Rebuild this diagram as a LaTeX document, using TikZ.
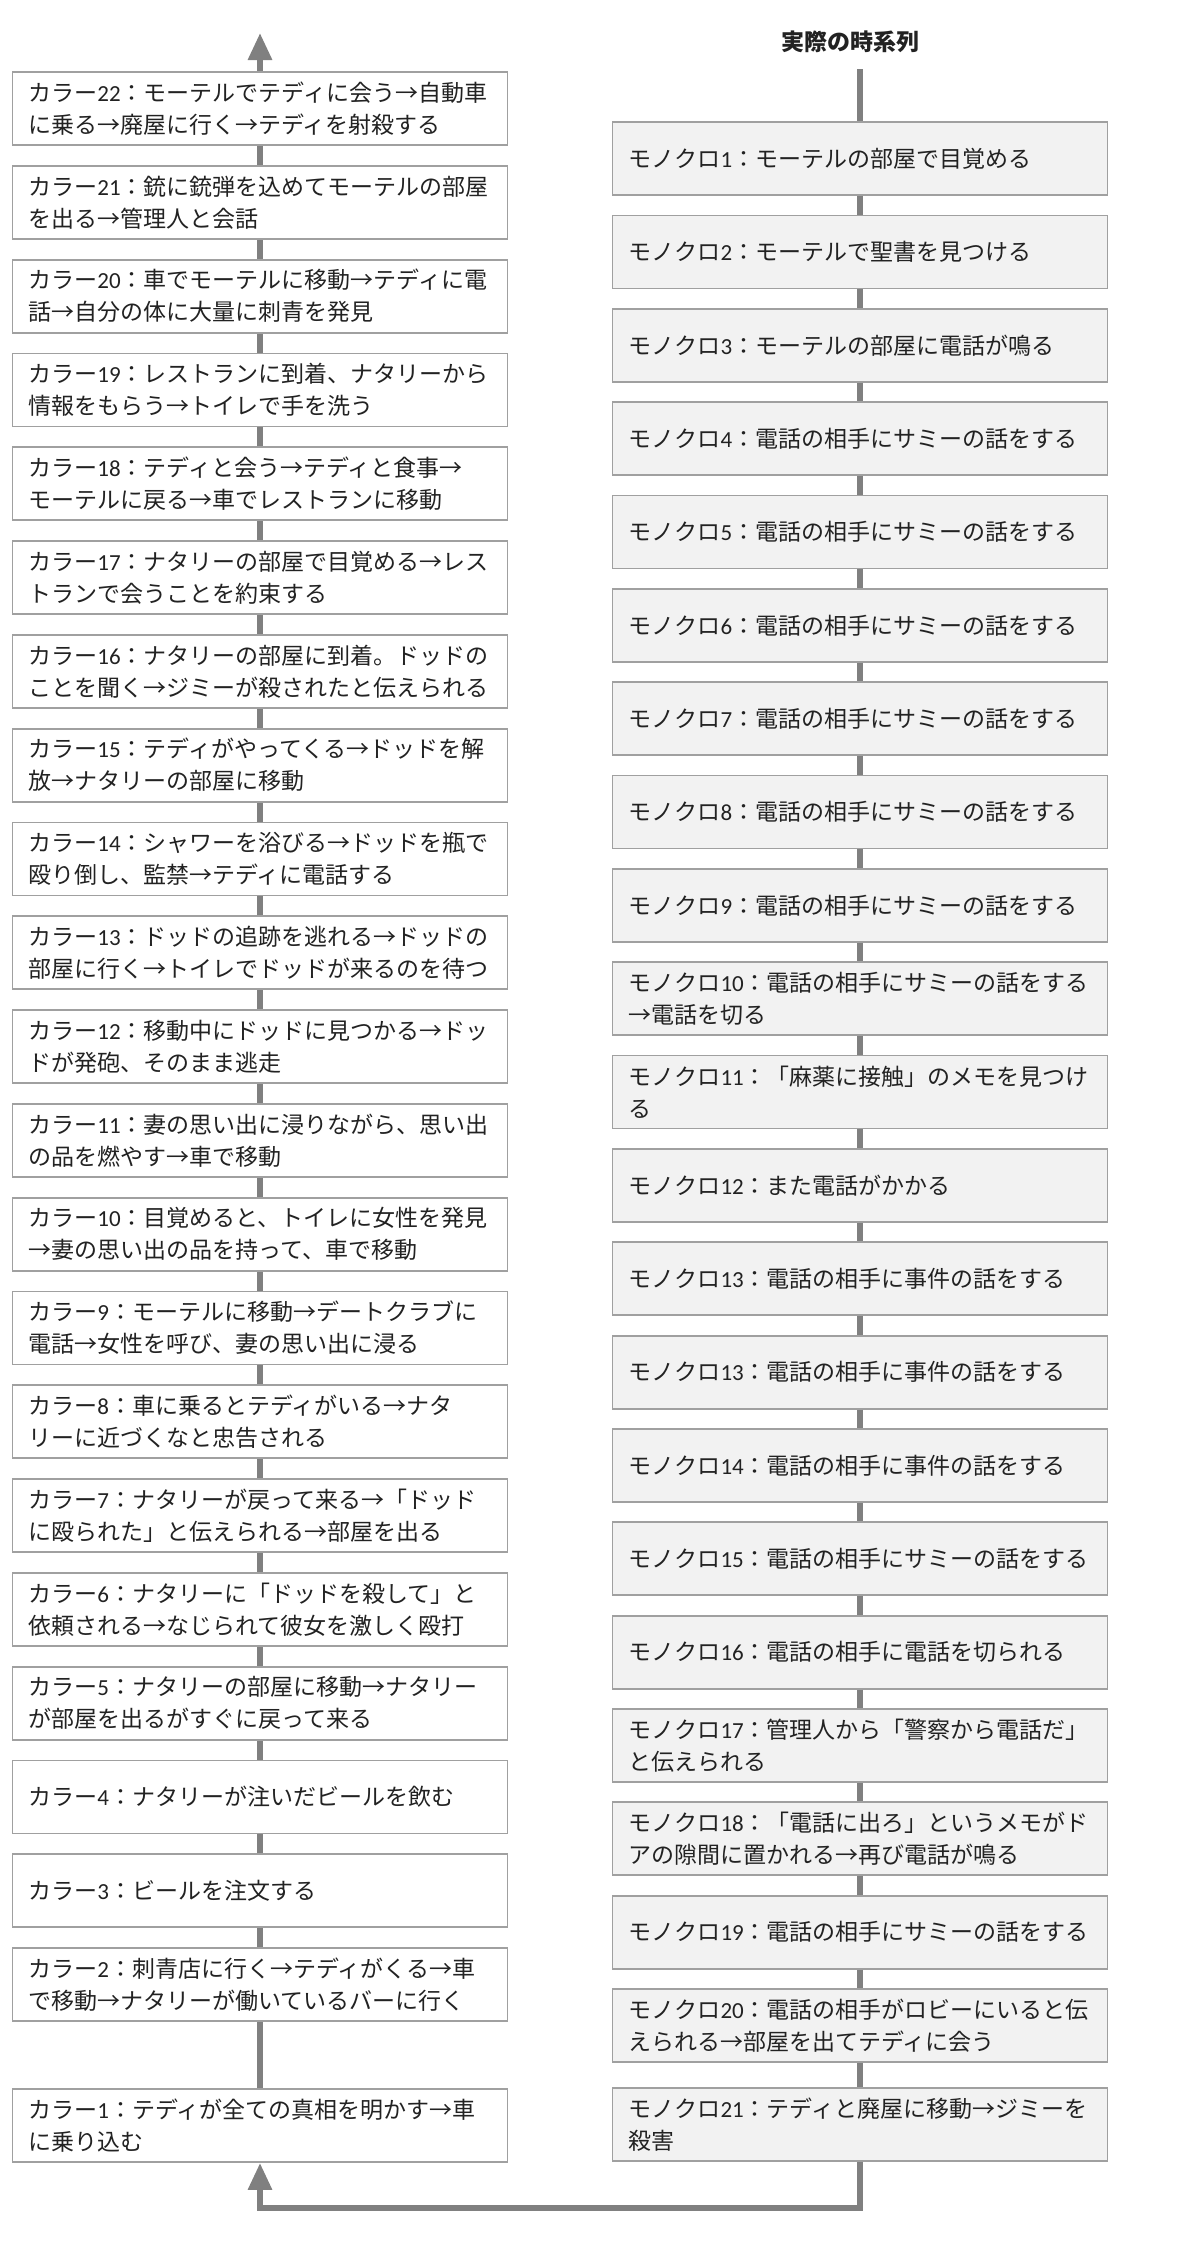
\documentclass[tikz,border=0pt]{standalone}
\usepackage{fontspec}
\setmainfont{Noto Sans CJK JP}
\newfontfamily\digfont{Carlito}
\usepackage{xcolor}
\usetikzlibrary{arrows.meta}
\definecolor{boxline}{HTML}{A0A0A0}
\definecolor{monofill}{HTML}{F2F2F2}
\definecolor{flowgray}{HTML}{808080}
\definecolor{ink}{HTML}{222222}
\newcommand{\nm}[1]{{\digfont #1}}
\tikzset{
    colorbox/.style={draw=boxline, line width=0.9pt, fill=white, text=ink,
        minimum height=36.5pt, text width=231.5pt, inner xsep=8pt, inner ysep=0pt,
        align=left, font=\fontsize{11.5pt}{16pt}\selectfont},
    monobox/.style={colorbox, fill=monofill},
    timeline/.style={draw=flowgray, line width=3pt},
    bighead/.style={-{Triangle[width=11.5pt,length=13.5pt]}}
}

\begin{document}
\begin{tikzpicture}[x=0.5pt, y=-0.5pt]
                        \useasboundingbox (0,0) rectangle (1200,2250);
                        \node[text=ink, font=\fontsize{11.5pt}{16pt}\selectfont\bfseries] (title) at (850,42) {実際の時系列};
                        % color scenes, shown in reverse order
                        \node[colorbox] (c22) at (260,108.5) {カラー\nm{22}：モーテルでテディに会う→自動車\\に乗る→廃屋に行く→テディを射殺する};
                        \node[colorbox] (c21) at (260,202.3) {カラー\nm{21}：銃に銃弾を込めてモーテルの部屋\\を出る→管理人と会話};
                        \node[colorbox] (c20) at (260,296.1) {カラー\nm{20}：車でモーテルに移動→テディに電\\話→自分の体に大量に刺青を発見};
                        \node[colorbox] (c19) at (260,389.9) {カラー\nm{19}：レストランに到着、ナタリーから\\情報をもらう→トイレで手を洗う};
                        \node[colorbox] (c18) at (260,483.7) {カラー\nm{18}：テディと会う→テディと食事→\\モーテルに戻る→車でレストランに移動};
                        \node[colorbox] (c17) at (260,577.5) {カラー\nm{17}：ナタリーの部屋で目覚める→レス\\トランで会うことを約束する};
                        \node[colorbox] (c16) at (260,671.3) {カラー\nm{16}：ナタリーの部屋に到着。ドッドの\\ことを聞く→ジミーが殺されたと伝えられる};
                        \node[colorbox] (c15) at (260,765.1) {カラー\nm{15}：テディがやってくる→ドッドを解\\放→ナタリーの部屋に移動};
                        \node[colorbox] (c14) at (260,858.9) {カラー\nm{14}：シャワーを浴びる→ドッドを瓶で\\殴り倒し、監禁→テディに電話する};
                        \node[colorbox] (c13) at (260,952.7) {カラー\nm{13}：ドッドの追跡を逃れる→ドッドの\\部屋に行く→トイレでドッドが来るのを待つ};
                        \node[colorbox] (c12) at (260,1046.5) {カラー\nm{12}：移動中にドッドに見つかる→ドッ\\ドが発砲、そのまま逃走};
                        \node[colorbox] (c11) at (260,1140.3) {カラー\nm{11}：妻の思い出に浸りながら、思い出\\の品を燃やす→車で移動};
                        \node[colorbox] (c10) at (260,1234.1) {カラー\nm{10}：目覚めると、トイレに女性を発見\\→妻の思い出の品を持って、車で移動};
                        \node[colorbox] (c9) at (260,1327.9) {カラー\nm{9}：モーテルに移動→デートクラブに\\電話→女性を呼び、妻の思い出に浸る};
                        \node[colorbox] (c8) at (260,1421.7) {カラー\nm{8}：車に乗るとテディがいる→ナタ\\リーに近づくなと忠告される};
                        \node[colorbox] (c7) at (260,1515.5) {カラー\nm{7}：ナタリーが戻って来る→「ドッド\\に殴られた」と伝えられる→部屋を出る};
                        \node[colorbox] (c6) at (260,1609.3) {カラー\nm{6}：ナタリーに「ドッドを殺して」と\\依頼される→なじられて彼女を激しく殴打};
                        \node[colorbox] (c5) at (260,1703.1) {カラー\nm{5}：ナタリーの部屋に移動→ナタリー\\が部屋を出るがすぐに戻って来る};
                        \node[colorbox] (c4) at (260,1796.9) {カラー\nm{4}：ナタリーが注いだビールを飲む};
                        \node[colorbox] (c3) at (260,1890.7) {カラー\nm{3}：ビールを注文する};
                        \node[colorbox] (c2) at (260,1984.5) {カラー\nm{2}：刺青店に行く→テディがくる→車\\で移動→ナタリーが働いているバーに行く};
                        \node[colorbox] (c1) at (260,2125.5) {カラー\nm{1}：テディが全ての真相を明かす→車\\に乗り込む};
                        % monochrome scenes, in story order
                        \node[monobox] (m1) at (860,158.5) {モノクロ\nm{1}：モーテルの部屋で目覚める};
                        \node[monobox] (m2) at (860,251.9) {モノクロ\nm{2}：モーテルで聖書を見つける};
                        \node[monobox] (m3) at (860,345.2) {モノクロ\nm{3}：モーテルの部屋に電話が鳴る};
                        \node[monobox] (m4) at (860,438.6) {モノクロ\nm{4}：電話の相手にサミーの話をする};
                        \node[monobox] (m5) at (860,531.9) {モノクロ\nm{5}：電話の相手にサミーの話をする};
                        \node[monobox] (m6) at (860,625.3) {モノクロ\nm{6}：電話の相手にサミーの話をする};
                        \node[monobox] (m7) at (860,718.6) {モノクロ\nm{7}：電話の相手にサミーの話をする};
                        \node[monobox] (m8) at (860,812) {モノクロ\nm{8}：電話の相手にサミーの話をする};
                        \node[monobox] (m9) at (860,905.3) {モノクロ\nm{9}：電話の相手にサミーの話をする};
                        \node[monobox] (m10) at (860,998.7) {モノクロ\nm{10}：電話の相手にサミーの話をする\\→電話を切る};
                        \node[monobox] (m11) at (860,1092) {モノクロ\nm{11}：「麻薬に接触」のメモを見つけ\\る};
                        \node[monobox] (m12) at (860,1185.4) {モノクロ\nm{12}：また電話がかかる};
                        \node[monobox] (m13a) at (860,1278.7) {モノクロ\nm{13}：電話の相手に事件の話をする};
                        \node[monobox] (m13b) at (860,1372.1) {モノクロ\nm{13}：電話の相手に事件の話をする};
                        \node[monobox] (m14) at (860,1465.4) {モノクロ\nm{14}：電話の相手に事件の話をする};
                        \node[monobox] (m15) at (860,1558.8) {モノクロ\nm{15}：電話の相手にサミーの話をする};
                        \node[monobox] (m16) at (860,1652.1) {モノクロ\nm{16}：電話の相手に電話を切られる};
                        \node[monobox] (m17) at (860,1745.5) {モノクロ\nm{17}：管理人から「警察から電話だ」\\と伝えられる};
                        \node[monobox] (m18) at (860,1838.8) {モノクロ\nm{18}：「電話に出ろ」というメモがド\\アの隙間に置かれる→再び電話が鳴る};
                        \node[monobox] (m19) at (860,1932.2) {モノクロ\nm{19}：電話の相手にサミーの話をする};
                        \node[monobox] (m20) at (860,2025.5) {モノクロ\nm{20}：電話の相手がロビーにいると伝\\えられる→部屋を出てテディに会う};
                        \node[monobox] (m21) at (860,2124.5) {モノクロ\nm{21}：テディと廃屋に移動→ジミーを\\殺害};
                        \coordinate (ctop) at (260,33);
                        \coordinate (mtop) at (860,69);
                        \coordinate (turn) at (260,2208);
                        \draw[timeline]
                        (c1) edge (c2) (c2) edge (c3) (c3) edge (c4) (c4) edge (c5)
                        (c5) edge (c6) (c6) edge (c7) (c7) edge (c8) (c8) edge (c9)
                        (c9) edge (c10) (c10) edge (c11) (c11) edge (c12) (c12) edge (c13)
                        (c13) edge (c14) (c14) edge (c15) (c15) edge (c16) (c16) edge (c17)
                        (c17) edge (c18) (c18) edge (c19) (c19) edge (c20) (c20) edge (c21)
                        (c21) edge (c22);
                        \draw[timeline]
                        (mtop) edge (m1) (m1) edge (m2) (m2) edge (m3) (m3) edge (m4)
                        (m4) edge (m5) (m5) edge (m6) (m6) edge (m7) (m7) edge (m8)
                        (m8) edge (m9) (m9) edge (m10) (m10) edge (m11) (m11) edge (m12)
                        (m12) edge (m13a) (m13a) edge (m13b) (m13b) edge (m14) (m14) edge (m15)
                        (m15) edge (m16) (m16) edge (m17) (m17) edge (m18) (m18) edge (m19)
                        (m19) edge (m20) (m20) edge (m21);
                        \draw[timeline, bighead] (c22) -- (ctop);
                        \draw[timeline, bighead] (m21.south) |- (turn) -- (c1);
                    \end{tikzpicture}
\end{document}
